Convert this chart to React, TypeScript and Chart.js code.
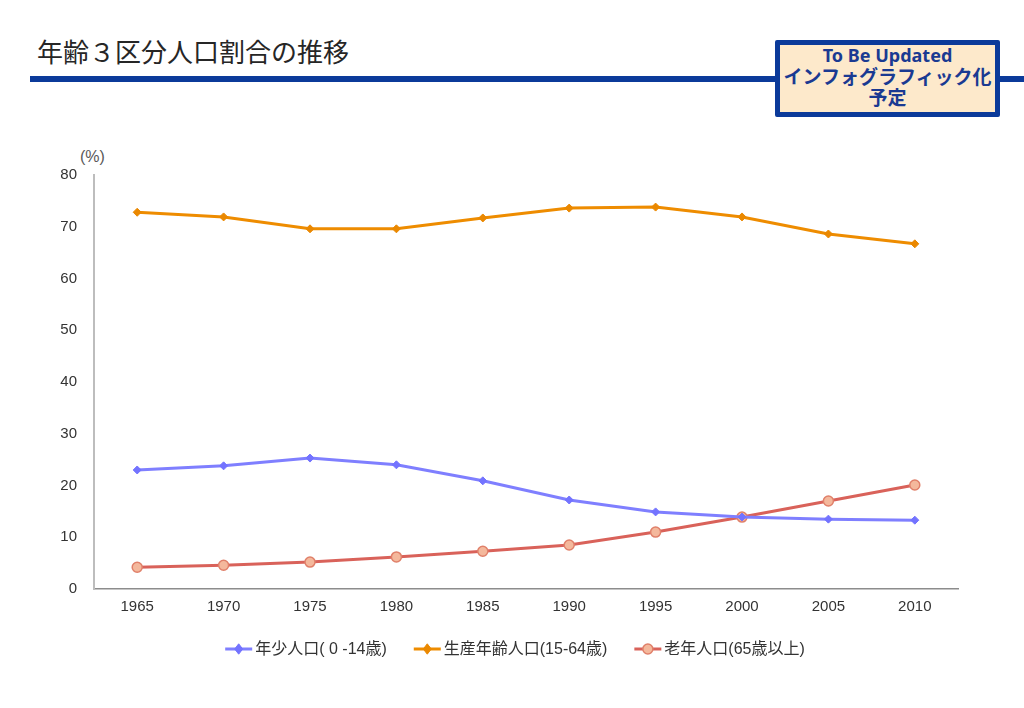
import React, { useEffect, useRef } from "react";
import { Chart, registerables } from "chart.js";

Chart.register(...registerables);

const years = ["1965", "1970", "1975", "1980", "1985", "1990", "1995", "2000", "2005", "2010"];
const youngLabel = "年少人口( 0 -14歳)";
const workingLabel = "生産年齢人口(15-64歳)";
const elderlyLabel = "老年人口(65歳以上)";
const youngValues = [23.0, 23.8, 25.3, 24.0, 20.9, 17.2, 14.9, 13.9, 13.5, 13.3];
const workingValues = [72.8, 71.9, 69.6, 69.6, 71.7, 73.6, 73.8, 71.9, 68.6, 66.7];
const elderlyValues = [4.2, 4.6, 5.2, 6.2, 7.3, 8.5, 11.0, 13.9, 17.0, 20.1];
const yTicks = [0, 10, 20, 30, 40, 50, 60, 70, 80];

const FONT = "'Liberation Sans', Arial, 'Noto Sans CJK JP', sans-serif";
const NAVY = "#0b3a9a";

const lineLegend = {
  id: "lineLegend",
  afterDraw(chart: any) {
    const ctx = chart.ctx;
    const y = 649;
    const lineLen = 27;
    const gap = 3;
    const itemGap = 27;
    ctx.save();
    ctx.font = `16px ${FONT}`;
    const ds = chart.data.datasets;
    const widths = ds.map((d: any) => lineLen + gap + ctx.measureText(d.label).width);
    const total = widths.reduce((a: number, b: number) => a + b, 0) + itemGap * (ds.length - 1);
    let x = 515 - total / 2;
    ds.forEach((d: any, i: number) => {
      ctx.strokeStyle = d.borderColor;
      ctx.lineWidth = d.borderWidth;
      ctx.beginPath();
      ctx.moveTo(x, y);
      ctx.lineTo(x + lineLen, y);
      ctx.stroke();
      const cx = x + lineLen / 2;
      const r = d.pointRadius;
      ctx.fillStyle = d.pointBackgroundColor;
      ctx.strokeStyle = d.pointBorderColor;
      ctx.lineWidth = d.pointBorderWidth;
      ctx.beginPath();
      if (d.pointStyle === "rectRot") {
        ctx.moveTo(cx, y - r * 1.3);
        ctx.lineTo(cx + r, y);
        ctx.lineTo(cx, y + r * 1.3);
        ctx.lineTo(cx - r, y);
        ctx.closePath();
      } else {
        ctx.arc(cx, y, r, 0, Math.PI * 2);
      }
      ctx.fill();
      ctx.stroke();
      ctx.fillStyle = "#333333";
      ctx.textBaseline = "middle";
      ctx.textAlign = "left";
      ctx.fillText(d.label, x + lineLen + gap, y + 1);
      x += widths[i] + itemGap;
    });
    ctx.restore();
  },
};

export default function App() {
  const canvasRef = useRef<HTMLCanvasElement | null>(null);

  useEffect(() => {
    if (!canvasRef.current) return;
    const chart = new Chart(canvasRef.current, {
      type: "line",
      data: {
        labels: years,
        datasets: [
          {
            label: youngLabel,
            data: youngValues,
            borderColor: "#7f7fff",
            backgroundColor: "#7f7fff",
            borderWidth: 3,
            pointStyle: "rectRot",
            pointRadius: 4,
            pointBackgroundColor: "#7373ff",
            pointBorderColor: "#7373ff",
            pointBorderWidth: 1,
            tension: 0,
          },
          {
            label: workingLabel,
            data: workingValues,
            borderColor: "#ee8c00",
            backgroundColor: "#ee8c00",
            borderWidth: 3,
            pointStyle: "rectRot",
            pointRadius: 4,
            pointBackgroundColor: "#ea8800",
            pointBorderColor: "#ea8800",
            pointBorderWidth: 1,
            tension: 0,
          },
          {
            label: elderlyLabel,
            data: elderlyValues,
            borderColor: "#d9625a",
            backgroundColor: "#f4b89c",
            borderWidth: 3,
            pointStyle: "circle",
            pointRadius: 5,
            pointBackgroundColor: "#f4b89c",
            pointBorderColor: "#e0806a",
            pointBorderWidth: 1.5,
            tension: 0,
          },
        ],
      },
      options: {
        animation: false,
        responsive: true,
        maintainAspectRatio: false,
        layout: { padding: { left: 54, right: 66, top: 175, bottom: 79 } },
        plugins: {
          legend: { display: false },
          tooltip: { enabled: false },
        },
        scales: {
          x: {
            type: "category",
            offset: true,
            grid: { display: false, drawTicks: false },
            border: { display: true, color: "#8c8c8c", width: 1.5 },
            ticks: { color: "#333333", font: { family: FONT, size: 15 }, padding: 9, maxRotation: 0 },
            afterFit: (s: any) => {
              s.height = 40;
            },
          },
          y: {
            min: 0,
            max: 80,
            afterBuildTicks: (s: any) => {
              s.ticks = yTicks.map((v) => ({ value: v }));
            },
            grid: { display: false, drawTicks: false },
            border: { display: true, color: "#bdbdbd", width: 2 },
            ticks: { color: "#333333", font: { family: FONT, size: 15 }, padding: 17 },
            afterFit: (s: any) => {
              s.width = 40;
            },
          },
        },
      },
      plugins: [lineLegend],
    });
    return () => chart.destroy();
  }, []);

  return (
    <div style={{ position: "absolute", left: 0, top: 0, width: 1024, height: 708, background: "#ffffff", overflow: "hidden" }}>
      <div
        style={{
          position: "absolute",
          left: 37,
          top: 38,
          fontFamily: "'Noto Sans CJK JP', sans-serif",
          fontSize: 26,
          lineHeight: "26px",
          color: "#262626",
          whiteSpace: "nowrap",
        }}
      >
        年齢３区分人口割合の推移
      </div>
      <div style={{ position: "absolute", left: 30, top: 76, width: 994, height: 6, background: NAVY }} />
      <div
        style={{
          position: "absolute",
          left: 775,
          top: 40,
          width: 215,
          height: 67,
          border: `5px solid ${NAVY}`,
          borderRadius: 2,
          background: "#fde9cb",
          color: "#1a3a92",
          fontFamily: "'Noto Sans', 'Noto Sans CJK JP', sans-serif",
          fontWeight: 700,
          fontSize: 19,
          lineHeight: "21.5px",
          textAlign: "center",
          whiteSpace: "nowrap",
          zIndex: 2,
        }}
      >
        <div style={{ fontSize: 18 }}>To Be Updated</div>
        <div>インフォグラフィック化</div>
        <div>予定</div>
      </div>
      <div
        style={{
          position: "absolute",
          left: 80,
          top: 148,
          fontFamily: FONT,
          fontSize: 16,
          lineHeight: "18px",
          color: "#595959",
        }}
      >
        (%)
      </div>
      <div style={{ position: "absolute", left: 0, top: 0, width: 1024, height: 708 }}>
        <canvas ref={canvasRef} />
      </div>
    </div>
  );
}
